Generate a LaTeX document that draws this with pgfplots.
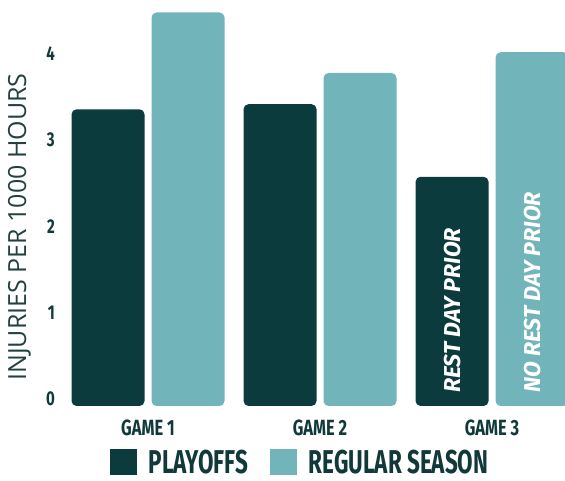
\documentclass[border=0pt]{standalone}
\usepackage{fontspec}
\usepackage{pgfplots}
\pgfplotsset{compat=1.18}
\setmainfont{Fira Sans}
\newfontfamily\condfont{Fira Sans}[FakeStretch=0.75]
\newfontfamily\legfont{Fira Sans}[FakeStretch=0.68]
\newfontfamily\labfont{Open Sans}
\definecolor{playoff}{HTML}{0B3B3C}
\definecolor{regular}{HTML}{71B4B9}
\definecolor{inktxt}{HTML}{12393A}
\definecolor{labtxt}{HTML}{24403F}

\pgfplotstableread{
x playoffs regular
0 3.43 4.55
1 3.49 3.85
2 2.65 4.09
}\injuries

\begin{document}
\begin{tikzpicture}
\begin{axis}[
    scale only axis,
    width=503pt, height=406pt,
    xmin=-0.5, xmax=2.424,
    ymin=0, ymax=4.694,
    ybar,
    bar width=73pt,
    axis line style={draw=none},
    major tick length=0pt,
    /pgf/number format/assume math mode=true,
    xtick=data,
    xticklabels={GAME 1, GAME 2, GAME 3},
    xticklabel style={font=\condfont\bfseries\fontsize{22}{22}\selectfont,
        text=inktxt, anchor=north, inner sep=0pt, yshift=-14pt},
    ytick={0,1,2,3,4},
    yticklabel style={font=\condfont\bfseries\fontsize{20}{20}\selectfont,
        text=inktxt, anchor=base east, inner sep=0pt, xshift=-7pt},
    ylabel={INJURIES PER 1000 HOURS},
    every axis y label/.style={at={([xshift=-31pt]rel axis cs:0,0.441)},
        rotate=90, anchor=south, inner sep=0pt,
        font=\labfont\fontsize{25}{25}\selectfont, text=labtxt},
    legend columns=2,
    legend style={draw=none, fill=none, at={(0.483,-0.137)}, anchor=center,
        font=\legfont\bfseries\fontsize{33}{33}\selectfont, text=inktxt,
        /tikz/every even column/.append style={column sep=10pt},
        nodes={inner xsep=12pt, inner ysep=0pt, text depth=0pt}},
    legend image code/.code={\fill[#1, sharp corners] (0pt,-13pt) rectangle (27pt,13pt);},
]
\addplot[fill=playoff, draw=none, bar shift=-40pt, rounded corners=5pt]
    table[x=x, y=playoffs] {\injuries};
\addplot[fill=regular, draw=none, bar shift=40pt, rounded corners=5pt]
    table[x=x, y=regular] {\injuries};
\legend{PLAYOFFS, REGULAR SEASON}
\node[rotate=90, anchor=west, inner sep=0pt, text=white,
    font=\bfseries\itshape\fontsize{23}{23}\selectfont]
    at ([xshift=-40pt]axis cs:2,0.15) {REST DAY PRIOR};
\node[rotate=90, anchor=west, inner sep=0pt, text=white,
    font=\bfseries\itshape\fontsize{23}{23}\selectfont]
    at ([xshift=40pt]axis cs:2,0.15) {NO REST DAY PRIOR};
\end{axis}
\pgfresetboundingbox
\path ([shift={(-62pt,-75pt)}]current axis.south west) rectangle (current axis.north east);
\end{tikzpicture}
\end{document}
